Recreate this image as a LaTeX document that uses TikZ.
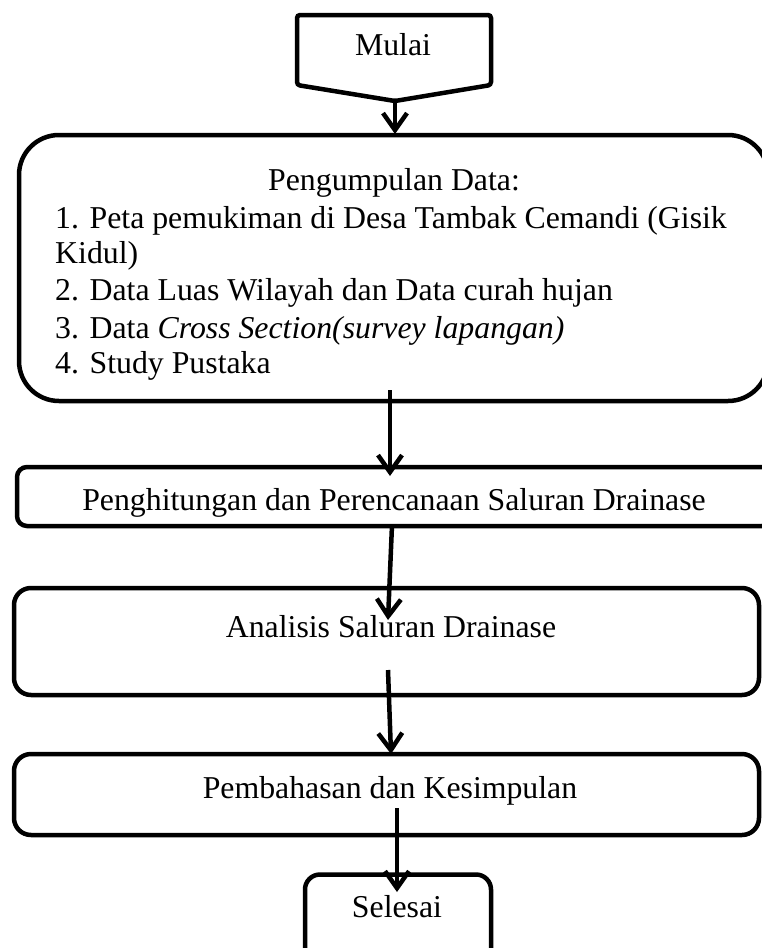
\documentclass[tikz,border=0pt]{standalone}
\usepackage{fontspec}
\setmainfont{Liberation Serif}
\usetikzlibrary{arrows.meta}
\begin{document}
\begin{tikzpicture}[x=1pt,y=-1pt,
  box/.style={draw, line width=4.5pt, inner sep=0pt},
  lbl/.style={anchor=base, inner sep=0pt, font=\fontsize{31.8}{36.7}\selectfont},
  lline/.style={lbl, anchor=base west},
  flow/.style={-{Straight Barb[length=17pt,width=24pt]}, line width=4.5pt}]
\useasboundingbox (0,0) rectangle (762,948);
% shapes
\draw[line width=4.5pt, rounded corners=3pt] (297,15) -- (491,15) -- (491,85) -- (395,101) -- (297,85) -- cycle;
\coordinate (mulaitip) at (395,101);
\node[box, rounded corners=40pt, minimum width=749pt, minimum height=266pt] (data) at (393.5,268) {};
\node[box, rounded corners=10pt, minimum width=755pt, minimum height=59pt] (hitung) at (394.5,496.5) {};
\node[box, rounded corners=17pt, minimum width=745pt, minimum height=107pt] (analisis) at (386.5,641.5) {};
\node[box, rounded corners=17pt, minimum width=745pt, minimum height=81pt] (bahas) at (386.5,794.5) {};
\node[box, rounded corners=15pt, minimum width=186pt, minimum height=115pt] (selesai) at (398,932) {};
% texts
\node[lbl] (tmulai) at (393,55) {Mulai};
\node[lbl] (tdata) at (394,190) {Pengumpulan Data:};
\node[lline] (td1) at (55,228) {1. Peta pemukiman di Desa Tambak Cemandi (Gisik};
\node[lline] (td1b) at (55,263) {Kidul)};
\node[lline] (td2) at (55,300) {2. Data Luas Wilayah dan Data curah hujan};
\node[lline] (td3) at (55,338) {3. Data \textit{Cross Section(survey lapangan)}};
\node[lline] (td4) at (55,373) {4. Study Pustaka};
\node[lbl] (thitung) at (394,510) {Penghitungan dan Perencanaan Saluran Drainase};
\node[lbl] (tanalisis) at (391,637) {Analisis Saluran Drainase};
\node[lbl] (tbahas) at (390,798) {Pembahasan dan Kesimpulan};
\node[lbl] (tselesai) at (397,917) {Selesai};
% connectors
\coordinate (a1e) at (395,134);
\coordinate (a2s) at (390,390);
\coordinate (a2e) at (390,476);
\coordinate (a3s) at (392,525);
\coordinate (a3e) at (388,620);
\coordinate (a4s) at (388,670);
\coordinate (a4e) at (391,754);
\coordinate (a5s) at (397,808);
\coordinate (a5e) at (397,892);
\draw[flow] (mulaitip) -- (a1e);
\draw[flow] (a2s) -- (a2e);
\draw[flow] (a3s) -- (a3e);
\draw[flow] (a4s) -- (a4e);
\draw[flow] (a5s) -- (a5e);
\end{tikzpicture}
\end{document}
